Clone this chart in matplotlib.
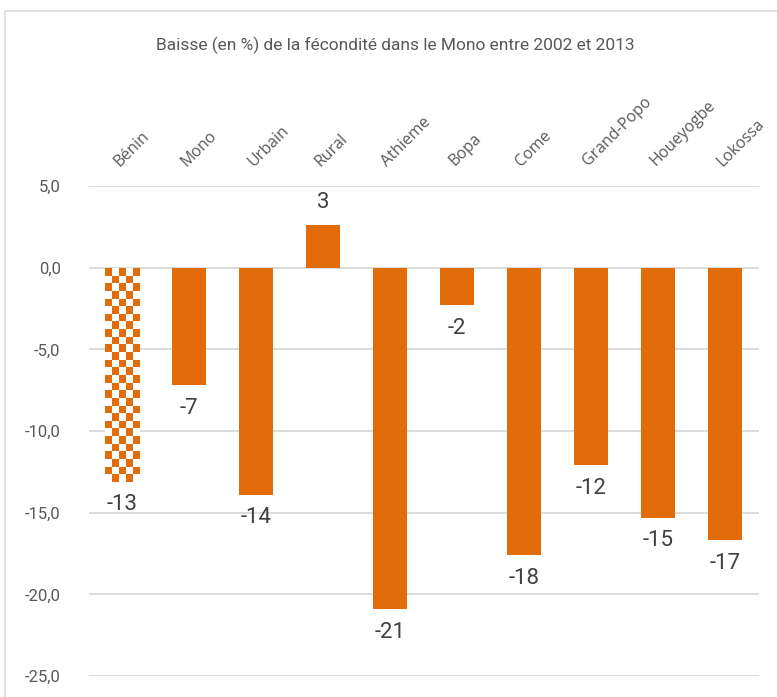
import matplotlib
matplotlib.use("Agg")
import matplotlib.pyplot as plt
import numpy as np
from matplotlib.patches import Rectangle

# data
categories = ["Bénin", "Mono", "Urbain", "Rural", "Athieme", "Bopa",
              "Come", "Grand-Popo", "Houeyogbe", "Lokossa"]
values = [-13.1, -7.2, -13.9, 2.6, -20.9, -2.3, -17.6, -12.1, -15.3, -16.7]
labels = ["-13", "-7", "-14", "3", "-21", "-2", "-18", "-12", "-15", "-17"]
yticks = [5, 0, -5, -10, -15, -20, -25]

orange = "#E36C0A"
grey = "#595959"

fig = plt.figure(figsize=(7.77, 6.97), dpi=100)
ax = fig.add_axes([0.1139, 0.0301, 0.8623, 0.703])

x = np.arange(len(categories))
bars = ax.bar(x, values, width=0.51, color=orange, zorder=3)

# first bar (Bénin) is a checkerboard pattern, clipped to the bar shape
b0 = bars[0]
b0.set_facecolor("white")
bx, by = b0.get_x(), b0.get_y()
bw, bh = b0.get_width(), b0.get_height()
nx, ny = 5, 28
checker = (np.indices((ny, nx)).sum(axis=0) % 2).astype(float)
cmap = matplotlib.colors.ListedColormap([orange, "white"])
im = ax.imshow(checker, cmap=cmap, extent=[bx, bx + bw, by + bh, by],
               aspect="auto", interpolation="nearest", zorder=4)
im.set_clip_path(b0)

ax.set_xlim(-0.5, len(categories) - 0.5)
ax.set_ylim(-25, 5)

for xi, v, lab in zip(x, values, labels):
    if v < 0:
        ax.annotate(lab, (xi, v), xytext=(0, -9), textcoords="offset points",
                    ha="center", va="top", fontsize=16, color="#404040",
                    family="Roboto")
    else:
        ax.annotate(lab, (xi, v), xytext=(0, 9), textcoords="offset points",
                    ha="center", va="bottom", fontsize=16, color="#404040",
                    family="Roboto")

ax.set_yticks(yticks)
ax.set_yticklabels([f"{t:.1f}".replace(".", ",") for t in yticks],
                   fontsize=12, color=grey, family="Roboto")
ax.tick_params(axis="y", length=0, pad=20)
ax.yaxis.grid(True, color="#D9D9D9", linewidth=1.3, zorder=0)
ax.set_axisbelow(True)

ax.xaxis.tick_top()
ax.set_xticks(x)
ax.set_xticklabels(categories, rotation=45, ha="left", va="bottom",
                   rotation_mode="anchor", fontsize=11.5, color=grey,
                   family="Open Sans")
ax.tick_params(axis="x", length=0, pad=12)

for s in ax.spines.values():
    s.set_visible(False)

fig.text(0.509, 0.935, "Baisse (en %) de la fécondité dans le Mono entre 2002 et 2013",
         ha="center", va="center", fontsize=12.5, color=grey, family="Roboto")

fig.patches.append(Rectangle((5 / 777, -0.01), 1.0, 1 - 11 / 697 + 0.01,
                             transform=fig.transFigure, fill=False,
                             edgecolor="#D9D9D9", linewidth=1.2))

fig.savefig("out.png", dpi=100)
